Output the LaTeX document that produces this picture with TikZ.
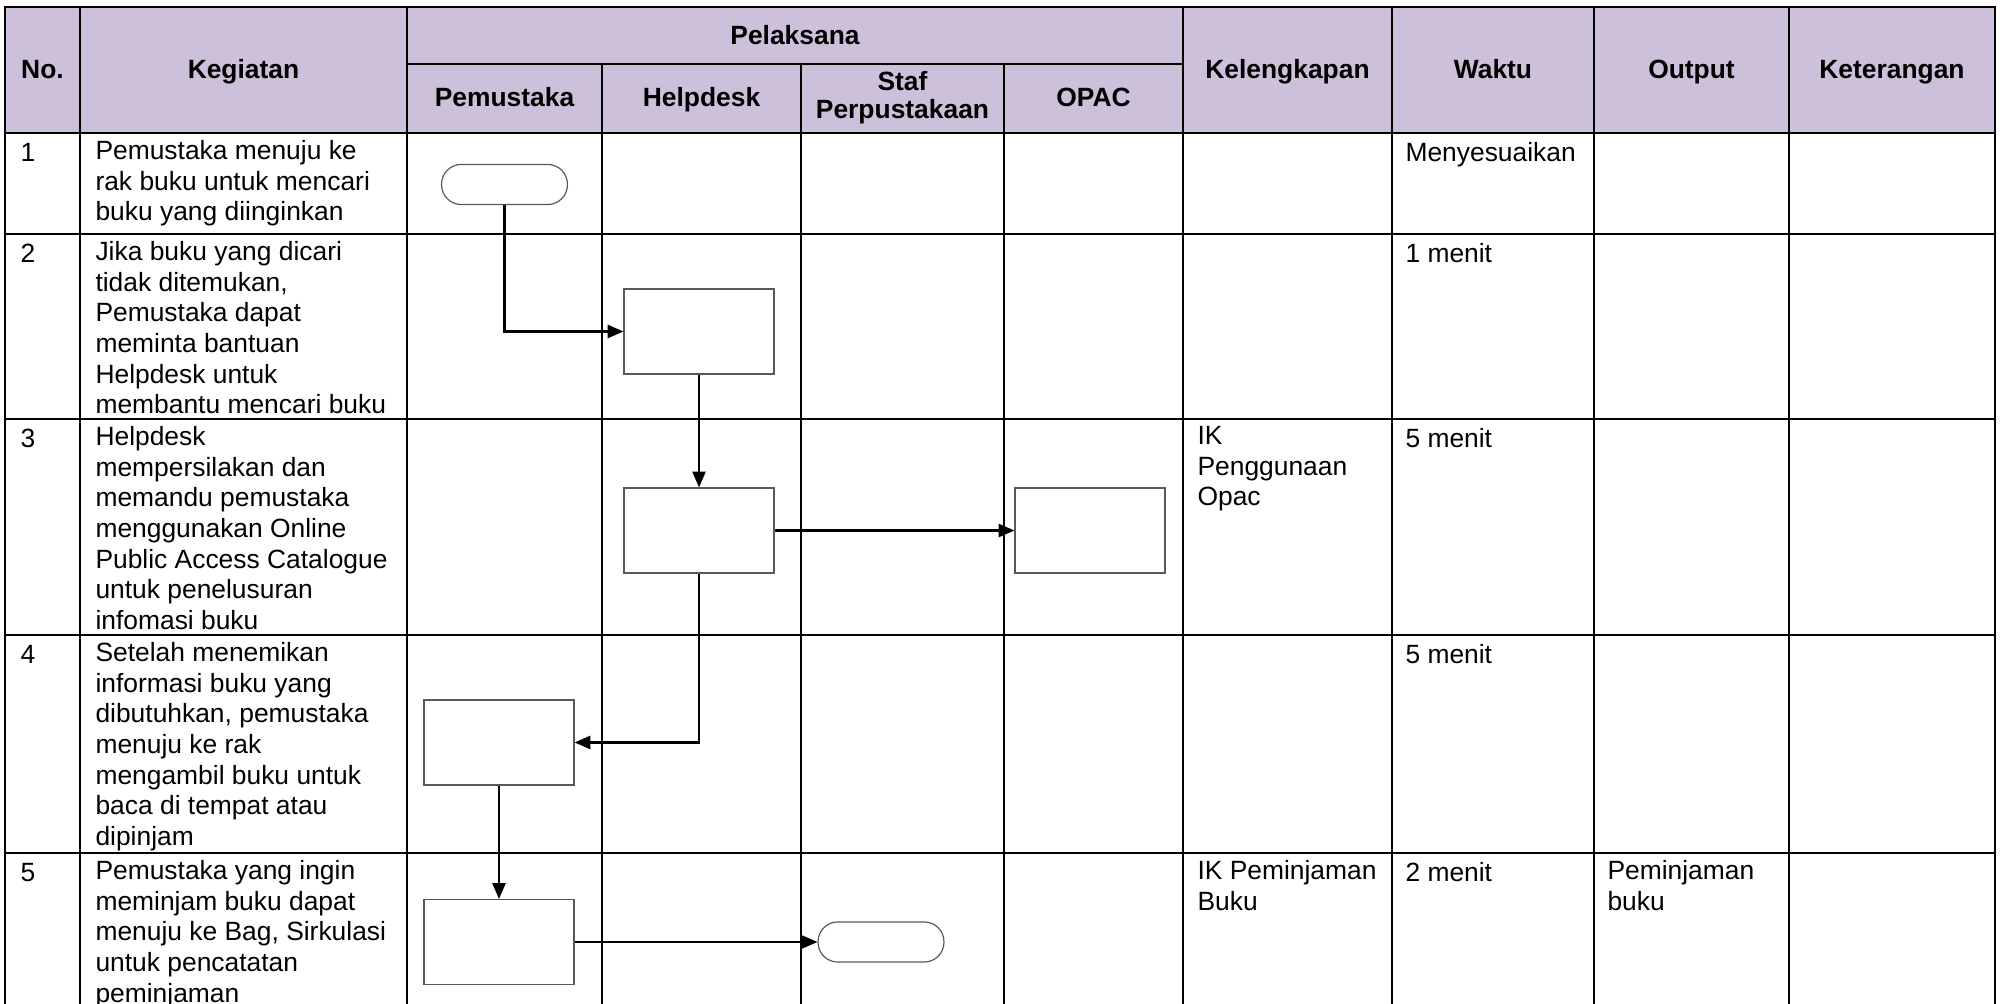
\documentclass[tikz,border=0pt]{standalone}
\usepackage{fontspec}
\setmainfont{Liberation Sans}
\usetikzlibrary{arrows.meta}
\definecolor{headfill}{RGB}{204,192,218}
\tikzset{
  grid/.style={line width=0.9pt, line cap=rect},
  head/.style={font=\fontsize{10}{11.5}\selectfont\bfseries, inner sep=0pt, anchor=base},
  cell/.style={font=\fontsize{10}{11.6}\selectfont, inner sep=0pt, anchor=north west, align=left, execute at begin node=\strut},
  proc/.style={draw=black!65, line width=0.45pt, fill=white, minimum width=56.8pt, minimum height=32.2pt, inner sep=0pt},
  term/.style={draw=black!65, line width=0.45pt, fill=white, rounded corners=7.5pt, minimum width=47.7pt, minimum height=15.2pt, inner sep=0pt},
  flow/.style={line width=0.8pt, -{Triangle[length=6pt,width=5pt]}}
}
\begin{document}
\begin{tikzpicture}[x=0.3788pt, y=-0.3788pt]
\useasboundingbox (0,0) rectangle (2000,1004);
\clip (0,0) rectangle (2000,1004);

% header background and table grid
\fill[headfill] (5,7) rectangle (1995,133);
\foreach \y in {7,133,234,419,635,853}{
    \draw[grid] (5,\y) -- (1995,\y);
}
\draw[grid] (407,64) -- (1183,64);
\foreach \x in {5,80,407,1183,1392,1594,1789,1995}{
    \draw[grid] (\x,7) -- (\x,1010);
}
\foreach \x in {602,801,1004}{
    \draw[grid] (\x,64) -- (\x,1010);
}

% header texts
\node[head] (hNo) at (42.5,79) {No.};
\node[head] (hKeg) at (243.5,79) {Kegiatan};
\node[head] (hPel) at (795,45) {Pelaksana};
\node[head] (hPem) at (504.5,107) {Pemustaka};
\node[head] (hHelp) at (701.5,107) {Helpdesk};
\node[head, anchor=center, align=center, font=\fontsize{10}{10.6}\selectfont\bfseries] (hStaf) at (902.5,98) {Staf\\Perpustakaan};
\node[head] (hOpac) at (1093.5,107) {OPAC};
\node[head] (hKel) at (1287.5,79) {Kelengkapan};
\node[head] (hWaktu) at (1493,79) {Waktu};
\node[head] (hOut) at (1691.5,79) {Output};
\node[head] (hKet) at (1892,79) {Keterangan};

% row texts
\foreach \n/\y in {1/140,2/241,3/426,4/642,5/860}{
    \node[cell] (no\n) at (20,\y) {\n};
}
\node[cell] (keg1) at (95,140) {Pemustaka menuju ke\\rak buku untuk mencari\\buku yang diinginkan};
\node[cell] (keg2) at (95,241) {Jika buku yang dicari\\tidak ditemukan,\\Pemustaka dapat\\meminta bantuan\\Helpdesk untuk\\membantu mencari buku};
\node[cell] (keg3) at (95,426) {Helpdesk\\mempersilakan dan\\memandu pemustaka\\menggunakan Online\\Public Access Catalogue\\untuk penelusuran\\infomasi buku};
\node[cell] (keg4) at (95,642) {Setelah menemikan\\informasi buku yang\\dibutuhkan, pemustaka\\menuju ke rak\\mengambil buku untuk\\baca di tempat atau\\dipinjam};
\node[cell] (keg5) at (95,860) {Pemustaka yang ingin\\meminjam buku dapat\\menuju ke Bag, Sirkulasi\\untuk pencatatan\\peminjaman};

\node[cell] (kel3) at (1197,426) {IK\\Penggunaan\\Opac};
\node[cell] (kel5) at (1197,860) {IK Peminjaman\\Buku};

\foreach \n/\y/\t in {1/140/Menyesuaikan,2/241/1 menit,3/426/5 menit,4/642/5 menit,5/860/2 menit}{
    \node[cell] (waktu\n) at (1405,\y) {\t};
}
\node[cell] (out5) at (1607,860) {Peminjaman\\buku};

% flow symbols
\node[term] (start) at (504.5,184.5) {};
\node[proc] (help2) at (699,331.5) {};
\node[proc] (help3) at (699,530.5) {};
\node[proc] (opac3) at (1090,530.5) {};
\node[proc] (pem4) at (499,742.5) {};
\node[proc] (pem5) at (499,942) {};
\node[term] (stop) at (881,942) {};

% connectors
\draw[flow] (start.south) |- (help2.west);
\draw[flow] (help2) -- (help3);
\draw[flow] (help3) -- (opac3);
\draw[flow] (help3.south) |- (pem4.east);
\draw[flow] (pem4) -- (pem5);
\draw[flow] (pem5) -- (stop);
\end{tikzpicture}
\end{document}
